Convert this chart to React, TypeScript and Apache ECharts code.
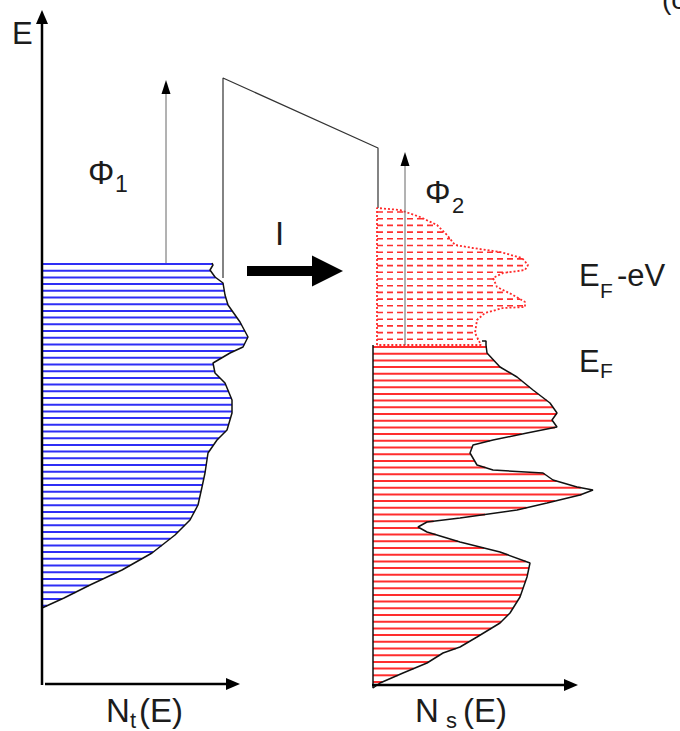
import React, { useEffect, useRef } from "react";
import * as echarts from "echarts";

// Diagram units: horizontal = density of states / position, vertical = energy E
// Tip density of states N_t(E): right boundary of the filled region, from E_F(tip) downwards
const tipDOS: [number, number][] = [
  [17.0, 42.0], [17.1, 41.8], [16.8, 41.3], [17.3, 40.6], [18.1, 40.0], [18.3, 38.8],
  [18.6, 37.8], [19.8, 36.1], [20.6, 34.6], [20.1, 33.6], [18.8, 33.0], [17.1, 32.0],
  [17.3, 31.0], [18.3, 30.0], [19.0, 28.3], [19.0, 27.0], [18.5, 25.3], [17.5, 24.3],
  [16.6, 23.0], [16.3, 21.0], [16.0, 19.6], [15.6, 17.8], [14.8, 16.3], [13.3, 14.8],
  [11.0, 13.0], [8.0, 11.3], [4.8, 9.8], [2.2, 8.5], [0.0, 7.5],
];
// Sample density of states N_s(E), filled states below E_F
const sampleFilled: [number, number][] = [
  [44.0, 34.2], [44.4, 34.2], [44.4, 33.8], [44.5, 33.0], [45.8, 31.6], [47.5, 30.6],
  [49.1, 29.3], [50.8, 28.0], [51.5, 27.0], [51.0, 26.3], [51.5, 25.6], [48.5, 25.0],
  [45.1, 24.3], [43.1, 23.8], [42.8, 23.0], [43.5, 21.8], [45.1, 21.3], [50.1, 21.0],
  [51.1, 20.3], [53.5, 19.6], [55.1, 19.3], [53.8, 18.8], [50.5, 18.0], [47.5, 17.3],
  [41.8, 16.5], [38.5, 16.1], [37.6, 15.6], [38.5, 15.1], [41.8, 14.1], [45.8, 13.1],
  [48.8, 12.0], [48.5, 10.6], [47.8, 8.6], [46.8, 7.0], [45.8, 6.0], [43.5, 4.6],
  [41.8, 3.6], [40.1, 3.0], [38.5, 2.0], [36.1, 1.0], [33.8, 0.0], [33.1, -0.5],
];
// Sample empty states between E_F and E_F - eV (dashed region)
const sampleWindow: [number, number][] = [
  [33.5, 47.5], [35.8, 47.3], [37.8, 46.6], [39.5, 45.8], [40.5, 44.8], [41.3, 43.8],
  [43.1, 43.5], [45.8, 43.1], [48.0, 42.5], [48.6, 41.8], [48.3, 41.3], [46.1, 41.0],
  [45.1, 40.5], [45.5, 39.6], [47.1, 38.8], [48.3, 38.1], [48.3, 37.6], [46.1, 37.5],
  [44.3, 37.0], [43.5, 36.3], [43.3, 35.0], [43.8, 34.0], [43.9, 33.8],
];
// Tunnel barrier outline
const barrier: [number, number][] = [[18.1, 40.5], [18.1, 60.5], [33.6, 53.5], [33.6, 47.5]];

const EF_TIP = 42.0;
const EF_SAMPLE = 33.8;
const TIP_AXIS_X = 0;
const SAMPLE_AXIS_X = 33.1;
const WINDOW_AXIS_X = 33.5;

// Arrows: [from, to]
const axisE: [number, number][] = [[0, -0.2], [0, 67.3]];
const axisNt: [number, number][] = [[0.3, -0.1], [19.8, -0.1]];
const axisNs: [number, number][] = [[33.0, -0.2], [53.6, -0.2]];
const phi1: [number, number][] = [[12.4, EF_TIP], [12.4, 60.3]];
const phi2: [number, number][] = [[36.3, EF_SAMPLE], [36.3, 53.1]];
const current: [number, number][] = [[20.5, 41.2], [30.1, 41.2]];

const FONT = '"Liberation Sans", Arial, Helvetica, sans-serif';

function hatch(poly: [number, number][], spacing: number, offset: number, color: string, width: number, dash?: number[]) {
  return (_params: any, api: any) => {
    const pts = poly.map((p) => api.coord(p) as number[]);
    const ys = pts.map((p) => p[1]);
    const minY = Math.min(...ys);
    const maxY = Math.max(...ys);
    const children: any[] = [];
    for (let y = minY + offset; y < maxY; y += spacing) {
      const xs: number[] = [];
      for (let i = 0; i < pts.length; i++) {
        const a = pts[i];
        const b = pts[(i + 1) % pts.length];
        if ((a[1] <= y && b[1] > y) || (b[1] <= y && a[1] > y)) {
          xs.push(a[0] + ((y - a[1]) * (b[0] - a[0])) / (b[1] - a[1]));
        }
      }
      xs.sort((m, n) => m - n);
      for (let k = 0; k + 1 < xs.length; k += 2) {
        children.push({
          type: "line",
          shape: { x1: xs[k], y1: y, x2: xs[k + 1], y2: y },
          style: { stroke: color, lineWidth: width, lineDash: dash || null },
        });
      }
    }
    return { type: "group", children };
  };
}

function arrow(seg: [number, number][], shaftW: number, shaftColor: string, headW: number, headL: number, headColor: string) {
  return (_params: any, api: any) => {
    const p1 = api.coord(seg[0]);
    const p2 = api.coord(seg[1]);
    const dx = p2[0] - p1[0];
    const dy = p2[1] - p1[1];
    const len = Math.hypot(dx, dy);
    const ux = dx / len;
    const uy = dy / len;
    const nx = -uy;
    const ny = ux;
    const bx = p2[0] - ux * headL;
    const by = p2[1] - uy * headL;
    return {
      type: "group",
      children: [
        {
          type: "line",
          shape: { x1: p1[0], y1: p1[1], x2: p2[0] - ux * headL * 0.6, y2: p2[1] - uy * headL * 0.6 },
          style: { stroke: shaftColor, lineWidth: shaftW },
        },
        {
          type: "polygon",
          shape: {
            points: [
              [p2[0], p2[1]],
              [bx + (nx * headW) / 2, by + (ny * headW) / 2],
              [bx - (nx * headW) / 2, by - (ny * headW) / 2],
            ],
          },
          style: { fill: headColor },
        },
      ],
    };
  };
}

function txt(text: string, x: number, y: number, size: number) {
  return {
    type: "text",
    x,
    y,
    silent: true,
    style: {
      text,
      font: `${size}px ${FONT}`,
      fill: "#1c1c1c",
      align: "left",
      verticalAlign: "middle",
      textAlign: "left",
      textVerticalAlign: "middle",
    },
  };
}

export default function App() {
  const ref = useRef<HTMLDivElement>(null);
  useEffect(() => {
    if (!ref.current) return;
    const chart = echarts.init(ref.current, undefined, { renderer: "svg" });

    const tipPoly: [number, number][] = [[TIP_AXIS_X, EF_TIP], ...tipDOS];
    const samplePoly: [number, number][] = [[SAMPLE_AXIS_X, EF_SAMPLE], ...sampleFilled.slice(2)];
    const windowPoly: [number, number][] = [[WINDOW_AXIS_X, EF_SAMPLE], ...sampleWindow];

    const custom = (renderItem: any, z: number) => ({
      type: "custom",
      coordinateSystem: "cartesian2d",
      data: [[0, 0]],
      renderItem,
      silent: true,
      clip: false,
      z,
    });
    const line = (data: [number, number][], color: string, width: number, type: any, z: number) => ({
      type: "line",
      data,
      symbol: "none",
      showSymbol: false,
      silent: true,
      clip: false,
      lineStyle: { color, width, type },
      z,
    });

    chart.setOption({
      animation: false,
      backgroundColor: "#ffffff",
      grid: { left: 42, right: 0, top: 0, bottom: 48 },
      xAxis: { type: "value", min: 0, max: 63.8, show: false },
      yAxis: { type: "value", min: 0, max: 68.3, show: false },
      series: [
        custom(hatch(tipPoly, 6.7, 1, "#2f2ff5", 2), 2),
        custom(hatch(samplePoly, 6.7, 2, "#ff2e2e", 2), 2),
        custom(hatch(windowPoly, 6.7, 4, "#ff2e2e", 1.6, [6, 4]), 2),
        line(tipDOS, "#111111", 1.5, "solid", 3),
        line([...sampleFilled, [SAMPLE_AXIS_X, EF_SAMPLE]], "#111111", 1.5, "solid", 3),
        line([[WINDOW_AXIS_X, EF_SAMPLE], ...sampleWindow, [WINDOW_AXIS_X, EF_SAMPLE]], "#ff2a2a", 1.8, [2, 2], 4),
        line(barrier, "#333333", 1.2, "solid", 3),
        custom(arrow(axisE, 2.5, "#000000", 12, 14, "#000000"), 5),
        custom(arrow(axisNt, 2.5, "#000000", 12, 14, "#000000"), 5),
        custom(arrow(axisNs, 2.5, "#000000", 12, 14, "#000000"), 5),
        custom(arrow(phi1, 1, "#666666", 9, 14, "#000000"), 5),
        custom(arrow(phi2, 1, "#666666", 9, 14, "#000000"), 5),
        custom(arrow(current, 10, "#000000", 31, 31, "#000000"), 5),
      ],
      graphic: [
        txt("E", 12, 33, 31),
        txt("Φ", 88, 172, 33),
        txt("1", 115, 184, 23),
        txt("I", 275, 233, 33),
        txt("Φ", 425, 192, 32),
        txt("2", 452, 205, 22),
        txt("E", 579, 275, 31),
        txt("F", 600, 290, 21),
        txt("-eV", 617, 275, 31),
        txt("E", 579, 361, 31),
        txt("F", 600, 370, 21),
        txt("N", 106, 710, 33),
        txt("t", 130, 720, 22),
        txt("(E)", 139, 710, 33),
        txt("N", 415, 710, 33),
        txt("s", 446, 720, 22),
        txt("(E)", 463, 710, 33),
        txt("(c)", 662, -1, 28),
      ],
    });
    return () => chart.dispose();
  }, []);
  return <div ref={ref} style={{ position: "fixed", left: 0, top: 0, width: 680, height: 731 }} />;
}
